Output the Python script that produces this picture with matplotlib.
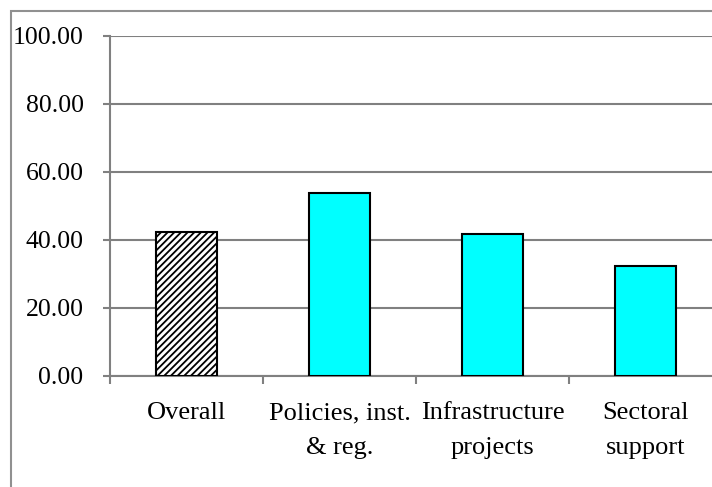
import matplotlib.pyplot as plt
import matplotlib.patches as mpatches
import numpy as np

categories = ['Overall', 'Policies, inst.\n& reg.', 'Infrastructure\nprojects', 'Sectoral\nsupport']
values = [42.3, 53.7, 41.8, 32.4]
yticks = [0, 20, 40, 60, 80, 100]

plt.rcParams['font.family'] = ['Liberation Serif', 'DejaVu Serif']
plt.rcParams['hatch.linewidth'] = 1.3

fig = plt.figure(figsize=(7.12, 4.87), dpi=100)
# outer chart border (runs off the right/bottom of the picture)
fig.patches.append(mpatches.Rectangle((10.5 / 712, -0.1), 1.2, (487 - 10.5) / 487 + 0.1,
                                      transform=fig.transFigure, fill=False,
                                      edgecolor='#909090', linewidth=1.5))

ax = fig.add_axes([110 / 712, (487 - 376) / 487, 612 / 712, 340 / 487])
x = np.arange(len(categories))
colors = ['white', '#00ffff', '#00ffff', '#00ffff']
bars = ax.bar(x, values, width=0.4, color=colors, edgecolor='black', linewidth=1.5, zorder=3)
bars[0].set_hatch('/////')

ax.set_xlim(-0.5, len(categories) - 0.5)
ax.set_ylim(0, 100)
ax.set_yticks(yticks)
ax.set_yticklabels([f'{v:.2f}' for v in yticks])
ax.grid(axis='y', color='#808080', linewidth=1.5, zorder=0)

ax.set_xticks(x)
ax.set_xticklabels(categories, linespacing=1.75)
ax.set_xticks(np.arange(len(categories) + 1) - 0.5, minor=True)
ax.tick_params(axis='x', which='major', length=0, pad=19, labelsize=19)
ax.tick_params(axis='x', which='minor', length=6, width=1.5, color='#808080')
ax.tick_params(axis='y', length=5, width=1.5, color='#808080', pad=14, labelsize=18.5)

for side in ['top', 'right']:
    ax.spines[side].set_visible(False)
for side in ['left', 'bottom']:
    ax.spines[side].set_color('#808080')
    ax.spines[side].set_linewidth(1.5)

fig.savefig('out.png', dpi=100)
